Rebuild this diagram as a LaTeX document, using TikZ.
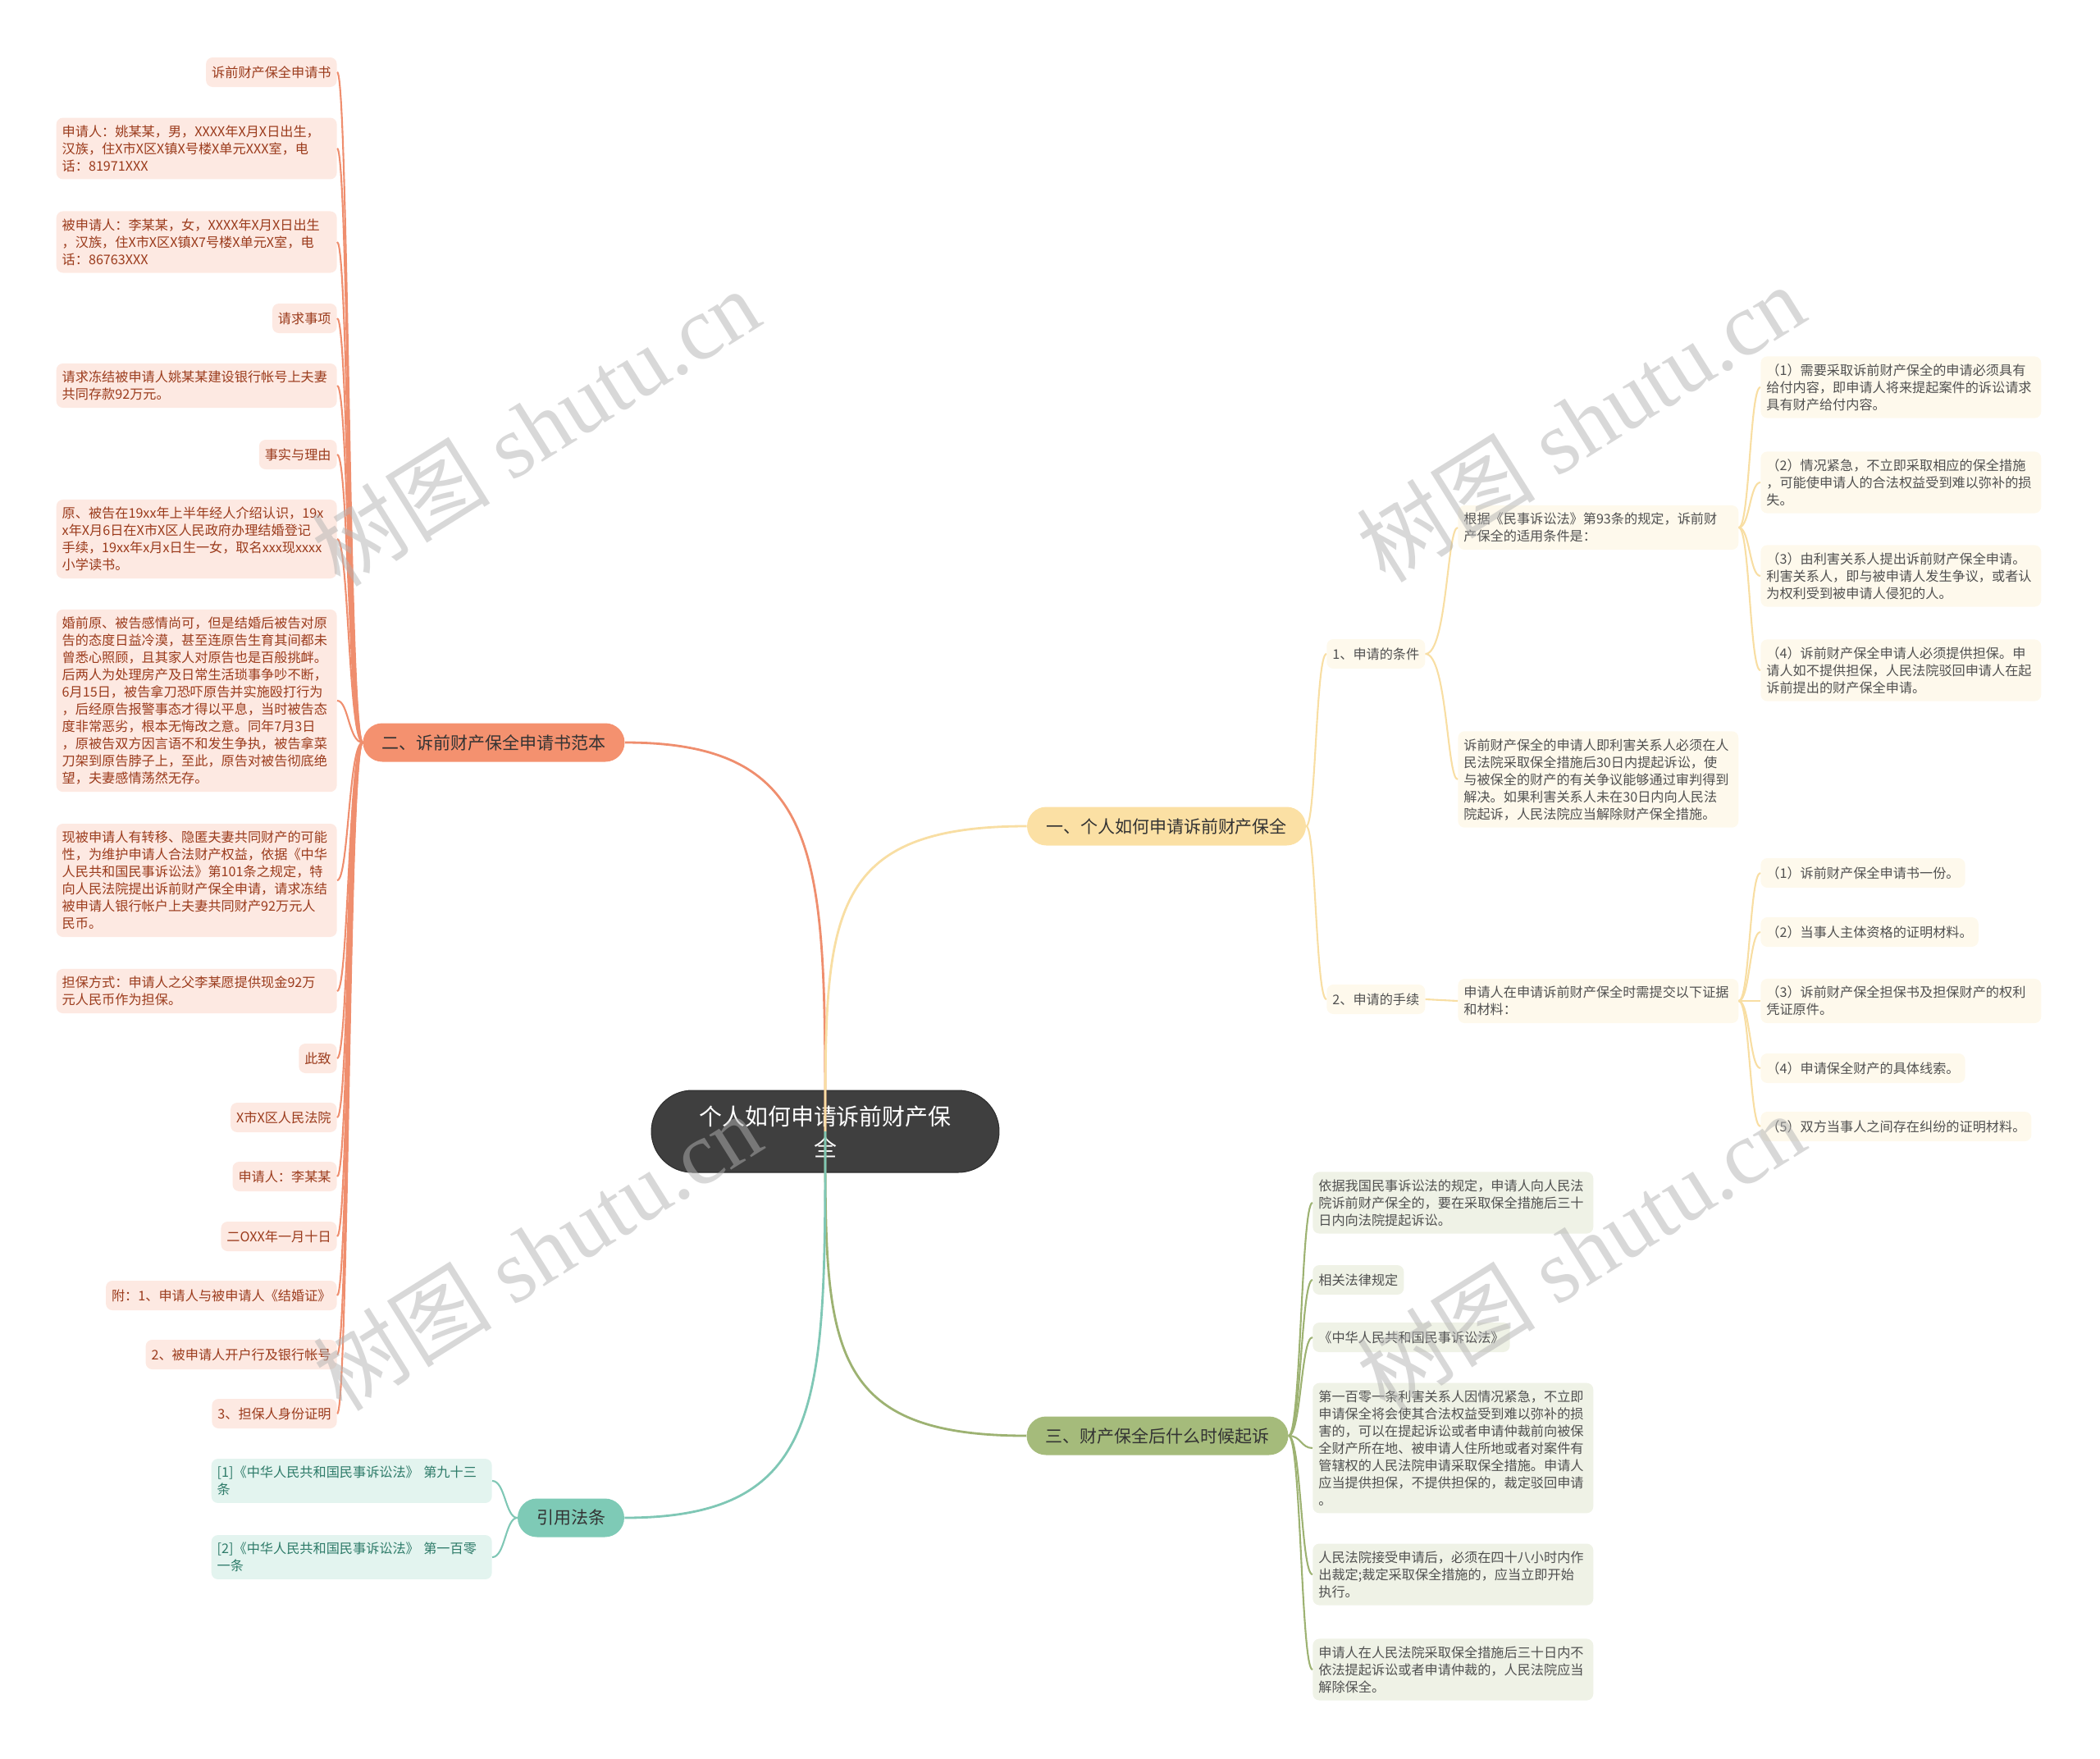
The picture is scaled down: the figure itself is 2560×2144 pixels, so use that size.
\documentclass[tikz,border=0pt]{standalone}
\usepackage{fontspec}
\setmainfont{Noto Sans CJK SC}
\newfontfamily\wmlatin{Liberation Serif}
\newfontfamily\wmcjk{Noto Sans CJK SC}
\usetikzlibrary{calc}
\definecolor{rootfill}{HTML}{3F3F3F}
\definecolor{rootdraw}{HTML}{2E2E2E}
\definecolor{salmonmain}{HTML}{F4916F}
\definecolor{salmonline}{HTML}{EF8E6E}
\definecolor{salmonleaf}{HTML}{FDE9E2}
\definecolor{salmontxt}{HTML}{9B3B1C}
\definecolor{yellowmain}{HTML}{FBE0A4}
\definecolor{yellowline}{HTML}{F8DEA3}
\definecolor{yellowleaf}{HTML}{FEF9EC}
\definecolor{greenmain}{HTML}{A5BB7B}
\definecolor{greenline}{HTML}{9DB272}
\definecolor{greenleaf}{HTML}{EFF2E6}
\definecolor{tealmain}{HTML}{7ECAB6}
\definecolor{tealline}{HTML}{7FC7B5}
\definecolor{tealleaf}{HTML}{E3F4EF}
\definecolor{tealtxt}{HTML}{2E7B69}
\definecolor{greytxt}{HTML}{505050}
\definecolor{branchtxt}{HTML}{333333}
\newcommand\rootfont{\fontsize{15.9}{21.6}\selectfont}
\newcommand\branchfont{\fontsize{11.95}{14}\selectfont}
\newcommand\leaffont{\fontsize{9.2}{11.95}\selectfont}

\begin{document}
\begin{tikzpicture}[x=0.02cm, y=-0.02cm,
    root/.style={rectangle, rounded corners=1cm, fill=rootfill, draw=rootdraw, line width=0.6pt,
        text=white, minimum width=8.48cm, minimum height=2cm, text width=6.4cm, align=center, font=\rootfont},
    branch/.style={rectangle, rounded corners=0.47cm, minimum height=0.94cm, inner xsep=0.46cm,
        font=\branchfont, text=branchtxt},
    leaf/.style={rectangle, rounded corners=0.16cm, inner xsep=0.14cm, inner ysep=0.18cm,
        minimum height=0.72cm, font=\leaffont, align=left},
    wide/.style={text width=6.56cm},
    leafL/.style={leaf, fill=salmonleaf, text=salmontxt},
    leafY/.style={leaf, fill=yellowleaf, text=greytxt},
    leafG/.style={leaf, fill=greenleaf, text=greytxt},
    leafT/.style={leaf, fill=tealleaf, text=tealtxt},
    linkL/.style={draw=salmonline, line width=1.2pt},
    linkY/.style={draw=yellowline, line width=1.2pt},
    linkG/.style={draw=greenline, line width=1.2pt},
    linkT/.style={draw=tealline, line width=1.2pt},
    wm/.style={text=gray!60, opacity=0.5, rotate=32, font=\wmlatin\fontsize{62}{62}\selectfont}
]
\useasboundingbox (0,0) rectangle (2560,2144);

% centre and main branches
\node[root] (root) at (1006,1379) {个人如何申请诉前财产保\\全};
\node[branch, fill=salmonmain] (er) at (602,905) {二、诉前财产保全申请书范本};
\node[branch, fill=yellowmain] (yi) at (1422,1007) {一、个人如何申请诉前财产保全};
\node[branch, fill=greenmain] (san) at (1411,1750) {三、财产保全后什么时候起诉};
\node[branch, fill=tealmain] (yin) at (696,1850) {引用法条};

% 二 : application template
\node[leafL, anchor=east] (l1) at (411,88) {诉前财产保全申请书};
\node[leafL, wide, anchor=east] (l2) at (411,181) {申请人：姚某某，男，XXXX年X月X日出生，\\汉族，住X市X区X镇X号楼X单元XXX室，电\\话：81971XXX};
\node[leafL, wide, anchor=east] (l3) at (411,295) {被申请人：李某某，女，XXXX年X月X日出生\\，汉族，住X市X区X镇X7号楼X单元X室，电\\话：86763XXX};
\node[leafL, anchor=east] (l4) at (411,388) {请求事项};
\node[leafL, wide, anchor=east] (l5) at (411,470) {请求冻结被申请人姚某某建设银行帐号上夫妻\\共同存款92万元。};
\node[leafL, anchor=east] (l6) at (411,554) {事实与理由};
\node[leafL, wide, anchor=east] (l7) at (411,657) {原、被告在19xx年上半年经人介绍认识，19x\\x年X月6日在X市X区人民政府办理结婚登记\\手续，19xx年x月x日生一女，取名xxx现xxxx\\小学读书。};
\node[leafL, wide, anchor=east] (l8) at (411,854) {婚前原、被告感情尚可，但是结婚后被告对原\\告的态度日益冷漠，甚至连原告生育其间都未\\曾悉心照顾，且其家人对原告也是百般挑衅。\\后两人为处理房产及日常生活琐事争吵不断，\\6月15日，被告拿刀恐吓原告并实施殴打行为\\，后经原告报警事态才得以平息，当时被告态\\度非常恶劣，根本无悔改之意。同年7月3日\\，原被告双方因言语不和发生争执，被告拿菜\\刀架到原告脖子上，至此，原告对被告彻底绝\\望，夫妻感情荡然无存。};
\node[leafL, wide, anchor=east] (l9) at (411,1073) {现被申请人有转移、隐匿夫妻共同财产的可能\\性，为维护申请人合法财产权益，依据《中华\\人民共和国民事诉讼法》第101条之规定，特\\向人民法院提出诉前财产保全申请，请求冻结\\被申请人银行帐户上夫妻共同财产92万元人\\民币。};
\node[leafL, wide, anchor=east] (l10) at (411,1208) {担保方式：申请人之父李某愿提供现金92万\\元人民币作为担保。};
\node[leafL, anchor=east] (l11) at (411,1290) {此致};
\node[leafL, anchor=east] (l12) at (411,1362) {X市X区人民法院};
\node[leafL, anchor=east] (l13) at (411,1434) {申请人：李某某};
\node[leafL, anchor=east] (l14) at (411,1507) {二OXX年一月十日};
\node[leafL, anchor=east] (l15) at (411,1579) {附：1、申请人与被申请人《结婚证》};
\node[leafL, anchor=east] (l16) at (411,1651) {2、被申请人开户行及银行帐号};
\node[leafL, anchor=east] (l17) at (411,1723) {3、担保人身份证明};

% 一 : conditions and procedure
\node[leafY, anchor=west] (a1) at (1617,797) {1、申请的条件};
\node[leafY, anchor=west] (a2) at (1617,1218) {2、申请的手续};
\node[leafY, wide, anchor=west] (b1) at (1777,643) {根据《民事诉讼法》第93条的规定，诉前财\\产保全的适用条件是：};
\node[leafY, wide, anchor=west] (b2) at (1777,950) {诉前财产保全的申请人即利害关系人必须在人\\民法院采取保全措施后30日内提起诉讼，使\\与被保全的财产的有关争议能够通过审判得到\\解决。如果利害关系人未在30日内向人民法\\院起诉，人民法院应当解除财产保全措施。};
\node[leafY, wide, anchor=west] (b3) at (1777,1220) {申请人在申请诉前财产保全时需提交以下证据\\和材料：};
\node[leafY, wide, anchor=west] (c1) at (2146,472) {（1）需要采取诉前财产保全的申请必须具有\\给付内容，即申请人将来提起案件的诉讼请求\\具有财产给付内容。};
\node[leafY, wide, anchor=west] (c2) at (2146,588) {（2）情况紧急，不立即采取相应的保全措施\\，可能使申请人的合法权益受到难以弥补的损\\失。};
\node[leafY, wide, anchor=west] (c3) at (2146,702) {（3）由利害关系人提出诉前财产保全申请。\\利害关系人，即与被申请人发生争议，或者认\\为权利受到被申请人侵犯的人。};
\node[leafY, wide, anchor=west] (c4) at (2146,817) {（4）诉前财产保全申请人必须提供担保。申\\请人如不提供担保，人民法院驳回申请人在起\\诉前提出的财产保全申请。};
\node[leafY, anchor=west] (d1) at (2146,1064) {（1）诉前财产保全申请书一份。};
\node[leafY, anchor=west] (d2) at (2146,1136) {（2）当事人主体资格的证明材料。};
\node[leafY, wide, anchor=west] (d3) at (2146,1220) {（3）诉前财产保全担保书及担保财产的权利\\凭证原件。};
\node[leafY, anchor=west] (d4) at (2146,1302) {（4）申请保全财产的具体线索。};
\node[leafY, anchor=west] (d5) at (2146,1373) {（5）双方当事人之间存在纠纷的证明材料。};

% 三 : when to sue
\node[leafG, wide, anchor=west] (g1) at (1600,1466) {依据我国民事诉讼法的规定，申请人向人民法\\院诉前财产保全的，要在采取保全措施后三十\\日内向法院提起诉讼。};
\node[leafG, anchor=west] (g2) at (1600,1560) {相关法律规定};
\node[leafG, anchor=west] (g3) at (1600,1630) {《中华人民共和国民事诉讼法》};
\node[leafG, wide, anchor=west] (g4) at (1600,1765) {第一百零一条利害关系人因情况紧急，不立即\\申请保全将会使其合法权益受到难以弥补的损\\害的，可以在提起诉讼或者申请仲裁前向被保\\全财产所在地、被申请人住所地或者对案件有\\管辖权的人民法院申请采取保全措施。申请人\\应当提供担保，不提供担保的，裁定驳回申请\\。};
\node[leafG, wide, anchor=west] (g5) at (1600,1919) {人民法院接受申请后，必须在四十八小时内作\\出裁定;裁定采取保全措施的，应当立即开始\\执行。};
\node[leafG, wide, anchor=west] (g6) at (1600,2035) {申请人在人民法院采取保全措施后三十日内不\\依法提起诉讼或者申请仲裁的，人民法院应当\\解除保全。};

% citations
\node[leafT, wide, anchor=east] (t1) at (600,1805) {[1]《中华人民共和国民事诉讼法》 第九十三\\条};
\node[leafT, wide, anchor=east] (t2) at (600,1898) {[2]《中华人民共和国民事诉讼法》 第一百零\\一条};

% spines
\coordinate (sL) at (425,0);
\coordinate (sA) at (1604,0);
\coordinate (sB) at (1764,0);
\coordinate (sC) at (2133,0);
\coordinate (sE) at (1586,0);
\coordinate (sT) at (616,0);

% connectors
\foreach \i in {1,...,17}
    \draw[linkL] (er.west) .. controls (er.west -| sL) and (l\i.east -| sL) .. (l\i.east);
\foreach \n in {a1,a2}
    \draw[linkY] (yi.east) .. controls (yi.east -| sA) and (\n.west -| sA) .. (\n.west);
\foreach \n in {b1,b2}
    \draw[linkY] (a1.east) .. controls (a1.east -| sB) and (\n.west -| sB) .. (\n.west);
\draw[linkY] (a2.east) -- (b3.west);
\foreach \n in {c1,c2,c3,c4}
    \draw[linkY] (b1.east) .. controls (b1.east -| sC) and (\n.west -| sC) .. (\n.west);
\foreach \n in {d1,d2,d3,d4,d5}
    \draw[linkY] (b3.east) .. controls (b3.east -| sC) and (\n.west -| sC) .. (\n.west);
\foreach \n in {g1,g2,g3,g4,g5,g6}
    \draw[linkG] (san.east) .. controls (san.east -| sE) and (\n.west -| sE) .. (\n.west);
\foreach \n in {t1,t2}
    \draw[linkT] (yin.west) .. controls (yin.west -| sT) and (\n.east -| sT) .. (\n.east);

\draw[linkL, line width=1.6pt] (root.center) .. controls ($(root.center)!0.7!(root.center |- er.east)$) and (root.center |- er.east) .. (er.east);
\draw[linkY, line width=1.6pt] (root.center) .. controls ($(root.center)!0.7!(root.center |- yi.west)$) and (root.center |- yi.west) .. (yi.west);
\draw[linkG, line width=1.6pt] (root.center) .. controls ($(root.center)!0.7!(root.center |- san.west)$) and (root.center |- san.west) .. (san.west);
\draw[linkT, line width=1.6pt] (root.center) .. controls ($(root.center)!0.7!(root.center |- yin.east)$) and (root.center |- yin.east) .. (yin.east);

% watermarks
\node[wm] (wm1) at (653,520) {{\wmcjk 树图} shutu.cn};
\node[wm] (wm2) at (1927,515) {{\wmcjk 树图} shutu.cn};
\node[wm] (wm3) at (655,1525) {{\wmcjk 树图} shutu.cn};
\node[wm] (wm4) at (1927,1525) {{\wmcjk 树图} shutu.cn};
\end{tikzpicture}
\end{document}
